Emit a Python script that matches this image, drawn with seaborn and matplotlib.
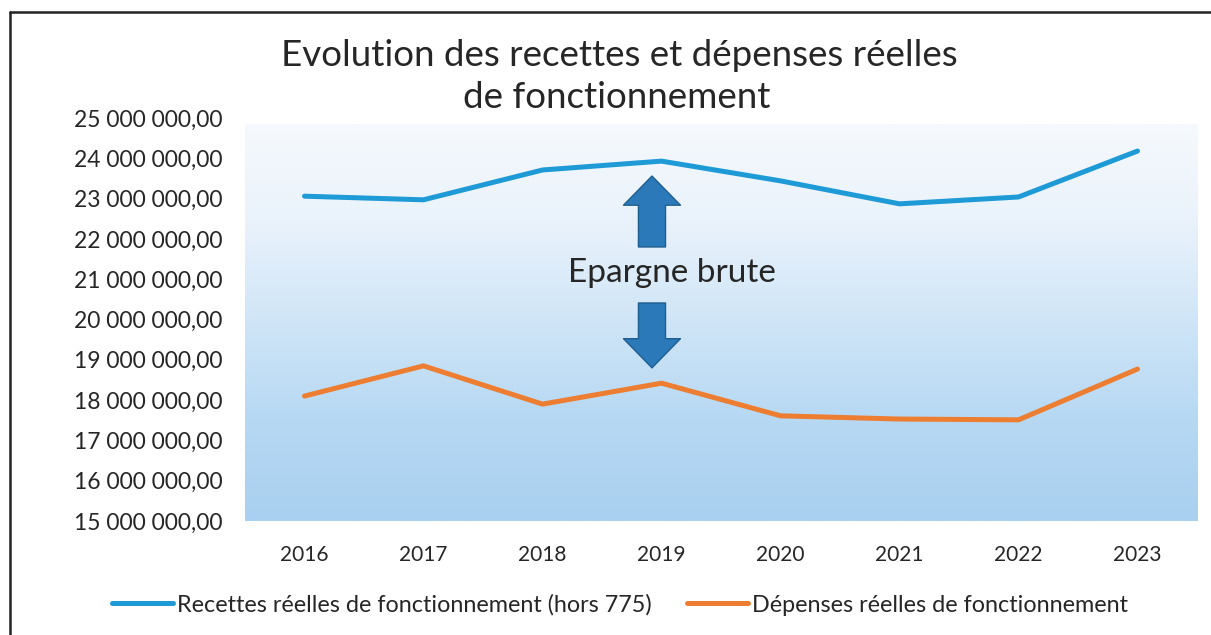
import numpy as np
import pandas as pd
import matplotlib
matplotlib.use("Agg")
import matplotlib.pyplot as plt
from matplotlib.ticker import FuncFormatter, MultipleLocator
from matplotlib.colors import LinearSegmentedColormap
from matplotlib.lines import Line2D
import seaborn as sns

years = ['2016', '2017', '2018', '2019', '2020', '2021', '2022', '2023']
recettes = [23.06e6, 22.97e6, 23.71e6, 23.93e6, 23.44e6, 22.87e6, 23.04e6, 24.18e6]
depenses = [18.10e6, 18.85e6, 17.90e6, 18.42e6, 17.61e6, 17.53e6, 17.51e6, 18.77e6]
label_rec = 'Recettes réelles de fonctionnement (hors 775)'
label_dep = 'Dépenses réelles de fonctionnement'
title_lines = ['Evolution des recettes et dépenses réelles', 'de fonctionnement']
annot = 'Epargne brute'


def fmt(v, pos):
    return f"{v:,.2f}".replace(",", " ").replace(".", ",")


def main():
    sns.set_style("white")
    plt.rcParams['font.family'] = ['Lato', 'DejaVu Sans']

    df = pd.DataFrame({
        'year': years * 2,
        'value': recettes + depenses,
        'serie': [label_rec] * len(years) + [label_dep] * len(years),
    })

    fig = plt.figure(figsize=(12.11, 6.35), dpi=100)
    W, H = 1211, 635
    ax = fig.add_axes([245 / W, (H - 521) / H, (1197 - 245) / W, (521 - 118) / H])

    # gradient background of the plot area
    cmap = LinearSegmentedColormap.from_list(
        'bg', ['#f6f9fd', '#e9f2fb', '#cfe5f7', '#b6d8f3', '#a9d0f0'])
    grad = np.linspace(0, 1, 256).reshape(-1, 1)
    ax.imshow(grad, cmap=cmap, aspect='auto', extent=[0, 1, 0.0, 0.983],
              transform=ax.transAxes, origin='upper', zorder=0)

    sns.lineplot(data=df, x='year', y='value', hue='serie', ax=ax,
                 palette=['#1e9ad6', '#ed7d31'], linewidth=3.6, sort=False,
                 legend=True)

    ax.set_xlim(-0.5, 7.5)
    ax.set_ylim(15e6, 25e6)
    ax.yaxis.set_major_locator(MultipleLocator(1e6))
    ax.yaxis.set_major_formatter(FuncFormatter(fmt))
    ax.set_xlabel('')
    ax.set_ylabel('')
    for s in ax.spines.values():
        s.set_visible(False)
    ax.tick_params(axis='y', length=0, pad=16, labelsize=16.5, labelcolor='#262626')
    ax.tick_params(axis='x', length=0, pad=17, labelsize=15, labelcolor='#262626')

    # arrows around the annotation
    arrow_kw = dict(arrowstyle='simple,head_length=2.1,head_width=4.1,tail_width=1.95',
                    fc='#2b79b8', ec='#1f5f90', lw=1, shrinkA=0, shrinkB=0,
                    mutation_scale=10)
    ax.annotate('', xy=(2.92, 23.56e6), xytext=(2.92, 21.80e6), arrowprops=arrow_kw)
    ax.annotate('', xy=(2.92, 18.80e6), xytext=(2.92, 20.41e6), arrowprops=arrow_kw)
    ax.text(3.09, 21.15e6, annot, ha='center', va='center', fontsize=24, color='#262626')

    leg = ax.legend(loc='center', bbox_to_anchor=(0.394, -0.208), ncol=2,
                    frameon=False, fontsize=16.8, handlelength=2.6, handletextpad=0.2,
                    columnspacing=1.5)
    for t in leg.get_texts():
        t.set_color('#262626')

    fig.text(619 / W, 1 - 55 / H, title_lines[0], ha='center', va='center',
             fontsize=26.5, color='#262626')
    fig.text(617 / W, 1 - 97 / H, title_lines[1], ha='center', va='center',
             fontsize=26.5, color='#262626')

    # frame: only top and left edges are visible in the crop
    fig.add_artist(Line2D([10 / W, 10 / W], [0, 1 - 12 / H], transform=fig.transFigure,
                          color='#222222', lw=1.8))
    fig.add_artist(Line2D([10 / W, 1], [1 - 12 / H, 1 - 12 / H], transform=fig.transFigure,
                          color='#222222', lw=1.8))

    fig.savefig('out.png', dpi=100)


if __name__ == '__main__':
    main()
